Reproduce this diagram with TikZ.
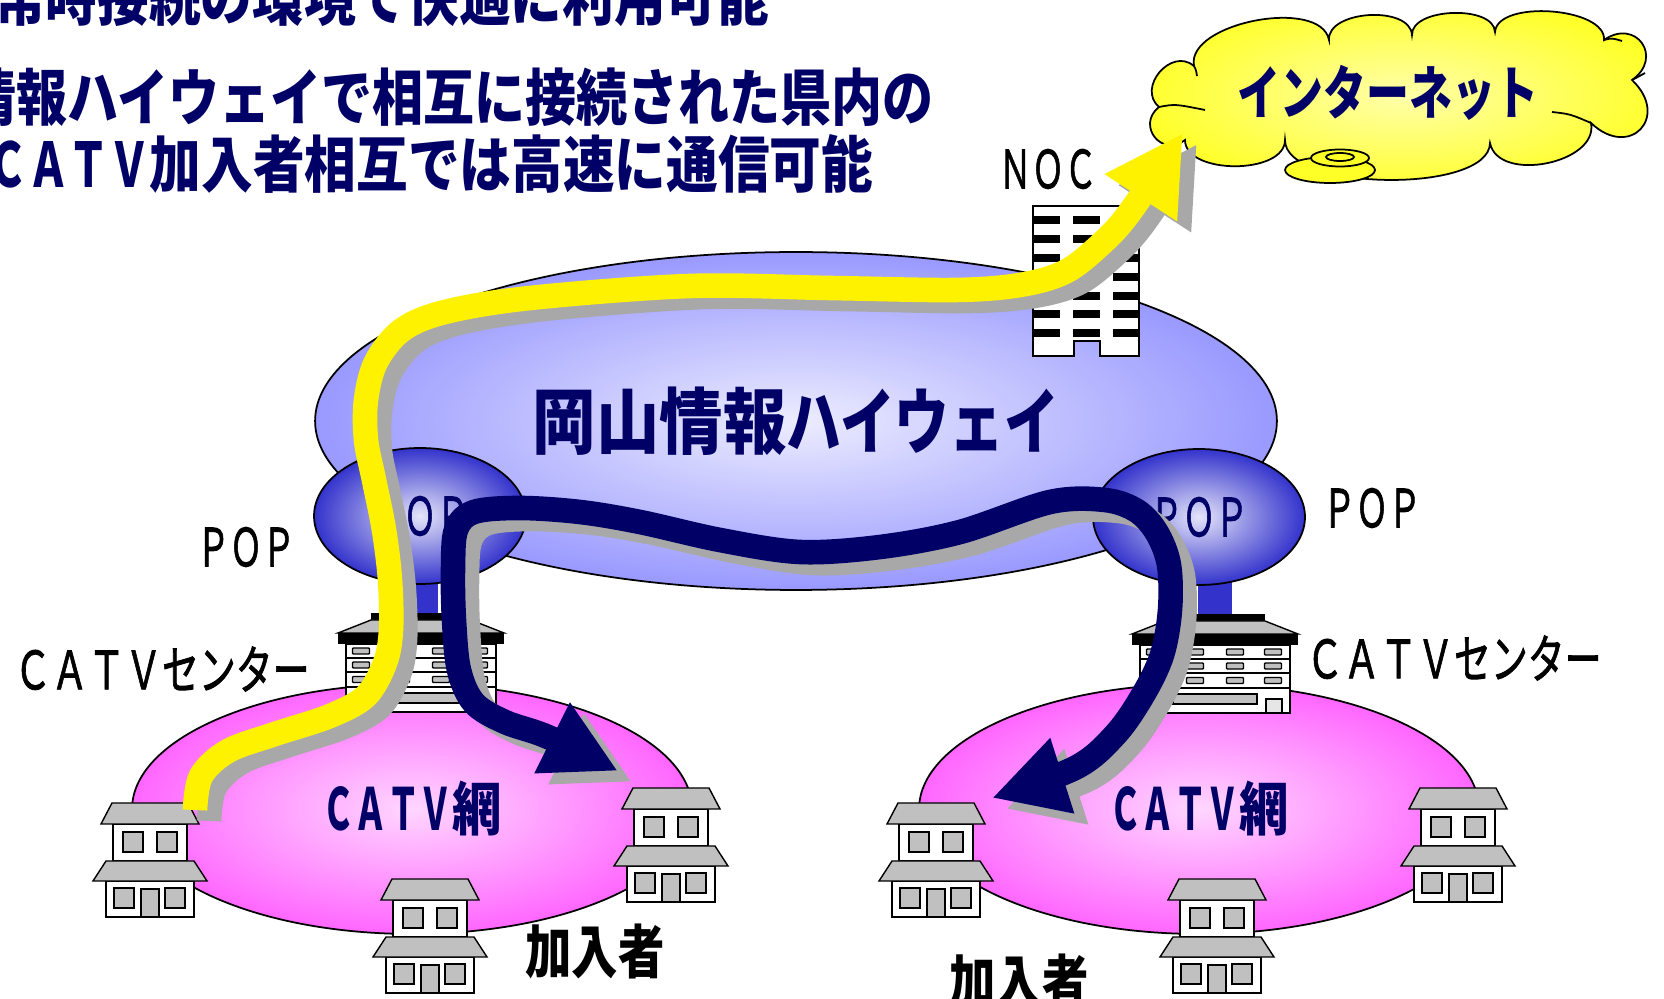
\documentclass[tikz,border=0pt]{standalone}
\usepackage{fontspec}
\usepackage{graphicx}
\usetikzlibrary{arrows.meta,shapes.geometric,calc}

\newfontfamily\jp{Noto Sans CJK JP}
\newfontfamily\jpm{Noto Sans CJK JP}[RawFeature={embolden=1.6}]
\newcommand{\hsq}[2]{\scalebox{#1}[1]{#2}}

\definecolor{deepnavy}{RGB}{0,0,102}
\definecolor{hwblue}{RGB}{153,153,255}
\definecolor{hwlight}{RGB}{236,236,255}
\definecolor{popblue}{RGB}{51,51,204}
\definecolor{poplight}{RGB}{228,228,250}
\definecolor{catvpink}{RGB}{255,102,255}
\definecolor{catvlight}{RGB}{255,214,255}
\definecolor{cloudyel}{RGB}{255,255,40}
\definecolor{cloudlight}{RGB}{255,255,170}
\definecolor{roofgray}{RGB}{192,192,192}
\definecolor{shadegray}{RGB}{168,168,168}

\tikzset{
  bldg/.style={draw=black, line width=0.8pt},
  house/.pic={
    \draw[bldg, fill=white] (-37,-93) rectangle (37,-56);
    \draw[bldg, fill=roofgray] (-38,-114) -- (38,-114) -- (49,-93) -- (-49,-93) -- cycle;
    \draw[bldg, fill=white] (-44,-36) rectangle (44,0);
    \draw[bldg, fill=roofgray] (-44,-56) -- (44,-56) -- (57,-36) -- (-57,-36) -- cycle;
    \draw[bldg, fill=roofgray] (-27,-85) rectangle (-7,-65) (7,-85) rectangle (27,-65)
      (-36,-29) rectangle (-16,-9) (15,-29) rectangle (35,-9) (-9,-28) rectangle (9,0);
  },
  catvbldg/.pic={
    \fill (-50,0) rectangle (50,7);
    \draw[bldg, fill=roofgray] (-50,7) -- (50,7) -- (83,20) -- (-83,20) -- cycle;
    \fill (-83,20) rectangle (83,31);
    \draw[bldg, fill=white] (-75,31) rectangle (75,99);
    \foreach \y in {45,59,74} \draw[bldg] (-75,\y) -- (75,\y);
    \foreach \x in {-60,-20,20,58} \foreach \y in {38,52,66.5}
      \draw[bldg, fill=roofgray, rounded corners=0.5pt] (\x-8.5,\y-3) rectangle (\x+8.5,\y+3);
    \draw[bldg, fill=roofgray] (-42,80) rectangle (42,90);
    \draw[bldg, fill=roofgray!40] (51,85) rectangle (67,99);
  },
  nocbldg/.pic={
    \draw[bldg, fill=white, line width=1pt] (0,0) -- (106,0) -- (106,150) -- (67,150) -- (67,135)
      -- (41,135) -- (41,150) -- (0,150) -- cycle;
    \foreach \y in {10,29,48,67,86,104,123} {
      \fill (0,\y) rectangle (27,\y+8);
      \fill (40,\y) rectangle (67,\y+8);
      \fill (80,\y) rectangle (106,\y+8);
    }
  }
}

\begin{document}
\begin{tikzpicture}[x=0.02cm,y=-0.02cm,
    every node/.style={inner sep=0pt, outer sep=0pt},
    ring/.style={ellipse, draw, line width=1pt, shading=radial},
    hwring/.style={ring, inner color=hwlight, outer color=hwblue, minimum width=19.24cm, minimum height=6.76cm},
    popring/.style={ring, inner color=poplight, outer color=popblue, minimum width=4.24cm, minimum height=2.72cm},
    catvring/.style={ring, inner color=catvlight, outer color=catvpink, minimum width=11.2cm, minimum height=5cm},
    cloudfill/.style={draw, line width=1pt, fill=cloudyel},
    toptxt/.style={anchor=east, text=deepnavy, font=\jp\bfseries\fontsize{35}{40}\selectfont},
    lbl/.style={font=\jpm\fontsize{30}{36}\selectfont},
    subtxt/.style={font=\jp\bfseries\fontsize{33}{40}\selectfont},
    yarrow/.style={draw=yellow, line width=14pt, line join=round, -{Triangle[length=44pt,width=46pt]}},
    narrow/.style={draw=deepnavy, line width=14pt, line join=round,
      {Triangle[length=42pt,width=42pt]}-{Triangle[length=42pt,width=42pt]}},
    drop/.style={draw=shadegray}]

  \useasboundingbox (0,0) rectangle (1664,999);

  \node[hwring, text=deepnavy, font=\jp\bfseries\fontsize{41}{48}\selectfont] (hw) at (796,421)
    {\hsq{0.88}{岡山情報}\hsq{0.76}{ハイウェイ}};
  \pic at (1033,206) {nocbldg};

  \fill[popblue] (404,575) rectangle (438,618);
  \fill[popblue] (1198,575) rectangle (1232,618);
  \node[popring, text=deepnavy, font=\jpm\fontsize{30}{36}\selectfont] (popL) at (420,516) {\hsq{0.62}{ＰＯＰ}};
  \node[popring, text=deepnavy, font=\jpm\fontsize{30}{36}\selectfont] (popR) at (1199,517) {\hsq{0.62}{ＰＯＰ}};

  \node[catvring, text=deepnavy, font=\jp\bfseries\fontsize{33}{40}\selectfont] (catvL) at (412,809)
    {\hsq{0.56}{ＣＡＴＶ}\hsq{0.85}{網}};
  \node[catvring, text=deepnavy, font=\jp\bfseries\fontsize{33}{40}\selectfont] (catvR) at (1199,809)
    {\hsq{0.56}{ＣＡＴＶ}\hsq{0.85}{網}};

  \pic at (421,613) {catvbldg};
  \pic at (1215,614) {catvbldg};
  \foreach \hx/\hy in {150/917, 430/993, 671/902, 936/917, 1217/993, 1458/902}
    \pic at (\hx,\hy) {house};

  % cloud outline: puffs between the dents cA..cK
  \coordinate (cA) at (1159,107);
  \coordinate (cB) at (1194,66);
  \coordinate (cC) at (1329,40);
  \coordinate (cD) at (1412,35);
  \coordinate (cE) at (1495,32);
  \coordinate (cF) at (1604,40);
  \coordinate (cG) at (1632,80);
  \coordinate (cH) at (1591,123);
  \coordinate (cI) at (1490,143);
  \coordinate (cJ) at (1285,140);
  \coordinate (cK) at (1185,140);
  \draw[line width=1pt, shading=radial, inner color=cloudlight, outer color=cloudyel] (cA)
    \foreach \p/\q/\k in {cA/cB/0.55, cB/cC/0.32, cC/cD/0.36, cD/cE/0.33, cE/cF/0.3, cF/cG/0.8,
      cG/cH/0.9, cH/cI/0.4, cI/cJ/0.25, cJ/cK/0.35, cK/cA/0.7} {
      .. controls ($(\p)!\k!90:(\q)$) and ($(\q)!\k!-90:(\p)$) .. (\q)
    } -- cycle;
  \draw[line width=1pt] (cA) .. controls (1175,104) .. (1205,110)
    (cB) .. controls (1196,70) .. (1197,76)
    (cF) .. controls (1612,38) .. (1622,41)
    (cG) .. controls (1636,78) .. (1645,73)
    (cH) .. controls (1570,114) .. (1552,112);
  \draw[cloudfill] (1330,170) ellipse [x radius=45, y radius=13];
  \draw[cloudfill] (1340,158) ellipse [x radius=29, y radius=8.5];
  \draw[cloudfill] (1340,157) ellipse [x radius=14, y radius=4];
  \node[text=deepnavy, font=\jp\bfseries\fontsize{33}{40}\selectfont] (nettxt) at (1388,93)
    {\hsq{0.74}{インターネット}};

  \coordinate (ystart) at (195,810);
  \coordinate (ytip) at (1183,133);
  \coordinate (nleft) at (618,771);
  \coordinate (nright) at (992,798);

  \begin{scope}[transform canvas={shift={(14,11)}}]
    \draw[yarrow, drop] plot[smooth, tension=0.55] coordinates {(ystart) (201,776) (228,751) (275,734)
      (330,716) (366,696) (385,663) (391,630) (390,580) (384,530) (374,480) (366,440) (366,400)
      (376,362) (402,330) (445,312) (530,298) (690,286) (830,288) (955,290) (1020,285) (1065,272)
      (1100,245) (1130,212) (ytip)};
    \draw[narrow, drop] plot[smooth, tension=0.55] coordinates {(nleft) (548,737) (505,722) (474,703)
      (459,670) (454,620) (453,570) (456,530) (474,512) (520,508) (580,512) (640,522) (720,540)
      (800,552) (880,547) (960,532) (1050,502) (1105,500) (1137,511) (1157,533) (1169,565)
      (1170,610) (1162,655) (1143,695) (1115,735) (1075,768) (nright)};
  \end{scope}

  \draw[yarrow] plot[smooth, tension=0.55] coordinates {(ystart) (201,776) (228,751) (275,734)
    (330,716) (366,696) (385,663) (391,630) (390,580) (384,530) (374,480) (366,440) (366,400)
    (376,362) (402,330) (445,312) (530,298) (690,286) (830,288) (955,290) (1020,285) (1065,272)
    (1100,245) (1130,212) (ytip)};
  \draw[narrow] plot[smooth, tension=0.55] coordinates {(nleft) (548,737) (505,722) (474,703)
    (459,670) (454,620) (453,570) (456,530) (474,512) (520,508) (580,512) (640,522) (720,540)
    (800,552) (880,547) (960,532) (1050,502) (1105,500) (1137,511) (1157,533) (1169,565)
    (1170,610) (1162,655) (1143,695) (1115,735) (1075,768) (nright)};

  \node[lbl] (popLlbl) at (246,547) {\hsq{0.62}{ＰＯＰ}};
  \node[lbl] (popRlbl) at (1372,508) {\hsq{0.62}{ＰＯＰ}};
  \node[lbl] (noclbl) at (1048,169) {\hsq{0.62}{ＮＯＣ}};
  \node[lbl] (ctrLlbl) at (162,669) {\hsq{0.7}{ＣＡＴＶセンター}};
  \node[lbl] (ctrRlbl) at (1454,658) {\hsq{0.7}{ＣＡＴＶセンター}};
  \node[subtxt] (subL) at (595,951) {\hsq{0.8}{加入者}};
  \node[subtxt] (subR) at (1019,981) {\hsq{0.8}{加入者}};

  \node[toptxt] (line1) at (769,-3) {\hsq{0.84}{常時接続の環境で快適に利用可能}};
  \node[toptxt] (line2) at (934,97) {\hsq{0.83}{情報ハイウェイで相互に接続された県内の}};
  \node[toptxt] (line3) at (873,164) {\hsq{0.66}{ＣＡＴＶ}\hsq{0.84}{加入者相互では高速に通信可能}};
\end{tikzpicture}
\end{document}
